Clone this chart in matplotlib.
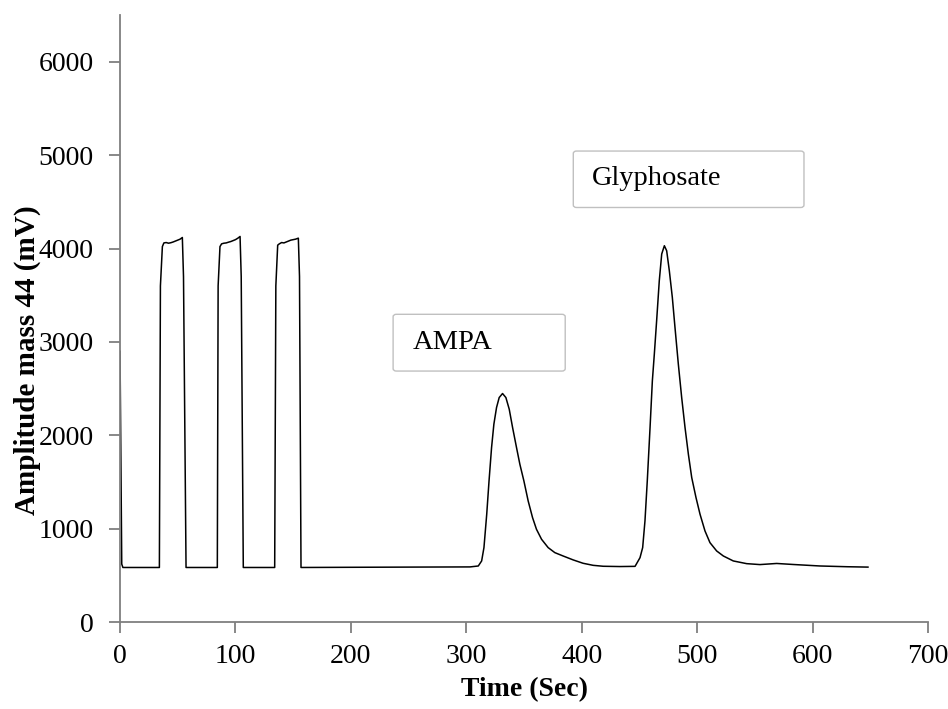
import matplotlib.pyplot as plt
from matplotlib.patches import FancyBboxPatch

plt.rcParams['font.family'] = ['Liberation Serif', 'DejaVu Serif']

# signal trace: time (s) and amplitude of mass 44 (mV)
time_s = [0, 1.5, 2.5,
          34.1, 35.0, 36.7, 38, 40, 42, 44, 46, 48, 50, 52, 54.0, 55.0, 57.2,
          84.3, 85.0, 86.6, 88, 90, 92, 94, 96, 98, 100, 102, 104.0, 105.0, 106.8,
          134.0, 135.0, 136.6, 138, 140, 142, 144, 146, 148, 150, 152, 154.5, 155.5, 156.8,
          200, 250, 303.2, 310.4, 313.3, 315.3, 317.7, 319.7, 321.9, 323.9, 326.2,
          328.5, 331.4, 334.3, 337.2, 340.1, 343.5, 346.4, 349.9, 353.6, 357.4,
          360.8, 365.2, 370.9, 376.7, 383.9, 392.6, 401.2, 409.9, 418.6, 433.0,
          446.2, 450.5, 452.8, 454.8, 456.8, 459.2, 461.2, 462.9, 464.9, 467.2,
          469.3, 471.6, 473.6, 475.9, 478.5, 480.8, 483.7, 486.6, 489.5, 492.4,
          495.3, 499.0, 502.5, 506.8, 511.1, 516.9, 522.7, 531.3, 542.9, 554.4,
          568.9, 583.3, 606.4, 630.0, 648.0]
amp_mv = [2900, 620, 584,
          584, 3600, 4021, 4060, 4064, 4057, 4062, 4070, 4080, 4090, 4100, 4118, 3700, 584,
          584, 3600, 4021, 4050, 4057, 4060, 4068, 4075, 4085, 4095, 4110, 4129, 3700, 584,
          584, 3600, 4036, 4050, 4064, 4060, 4070, 4080, 4090, 4095, 4100, 4111, 3700, 584,
          586, 588, 590, 600, 654, 797, 1154, 1511, 1869, 2119, 2297,
          2404, 2447, 2404, 2279, 2083, 1869, 1690, 1511, 1297, 1118,
          993, 886, 797, 743, 707, 665, 629, 607, 597, 594,
          596, 689, 797, 1083, 1511, 2083, 2583, 2869, 3226, 3655,
          3941, 4030, 3976, 3762, 3476, 3155, 2762, 2404, 2083, 1797,
          1547, 1333, 1154, 975, 850, 761, 707, 654, 625, 615,
          627, 616, 600, 592, 588]

# peak annotations: label, box (axes fraction) and text anchor
labels = ['AMPA', 'Glyphosate']
box_x0 = [0.338, 0.561]
box_x1 = [0.551, 0.8465]
box_y0 = [0.4135, 0.683]
box_y1 = [0.507, 0.776]
text_x = [0.362, 0.5845]
text_y = [0.461, 0.730]

fig = plt.figure(figsize=(9.48, 7.09), dpi=100)
ax = fig.add_axes([0.1266, 0.1227, 0.8523, 0.856])

ax.plot(time_s, amp_mv, color='black', lw=1.1)

ax.set_xlim(0, 700)
ax.set_ylim(0, 6500)
ax.set_xticks(range(0, 701, 100))
ax.set_yticks(range(0, 6001, 1000))

for side in ['top', 'right']:
    ax.spines[side].set_visible(False)
for side in ['left', 'bottom']:
    ax.spines[side].set_color('#7f7f7f')
    ax.spines[side].set_linewidth(1.3)
ax.tick_params(direction='out', length=8, width=1.3, color='#7f7f7f',
               labelsize=20)
ax.tick_params(axis='y', pad=11)
ax.tick_params(axis='x', pad=8)

ax.set_xlabel('Time (Sec)', fontsize=20, fontweight='bold', labelpad=6)
ax.set_ylabel('Amplitude mass 44 (mV)', fontsize=21, fontweight='bold', labelpad=6)
ax.yaxis.set_label_coords(-0.098, 0.432)

for lab, x0, x1, y0, y1, tx, ty in zip(labels, box_x0, box_x1, box_y0, box_y1,
                                       text_x, text_y):
    box = FancyBboxPatch((x0, y0), x1 - x0, y1 - y0,
                         boxstyle='round,pad=0,rounding_size=0.004',
                         transform=ax.transAxes, facecolor='white',
                         edgecolor='#c0c0c0', lw=1.0)
    ax.add_patch(box)
    ax.text(tx, ty, lab, transform=ax.transAxes, fontsize=20.5,
            va='center', ha='left')

fig.savefig('out.png', dpi=100)
